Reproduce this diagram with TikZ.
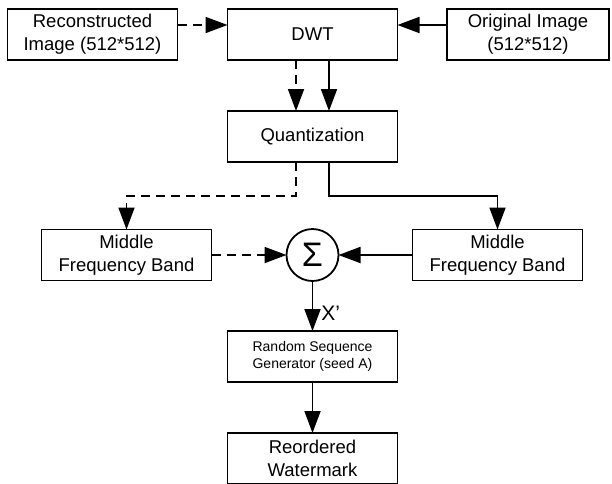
\documentclass[tikz,border=0pt]{standalone}
\usepackage{fontspec}
\setmainfont{Liberation Sans}
\usetikzlibrary{arrows.meta,positioning}

\begin{document}
\begin{tikzpicture}[
  x=1pt,y=1pt,
  node distance=50pt,
  box/.style={draw,line width=1.8pt,minimum width=170pt,minimum height=51pt,
              outer sep=0pt,inner sep=2pt,align=center,
              font=\fontsize{18.5}{23}\selectfont},
  smallbox/.style={box,font=\fontsize{14}{17}\selectfont},
  sumnode/.style={draw,circle,line width=1.8pt,minimum size=52pt,inner sep=0pt,
              outer sep=0pt,font=\fontsize{34}{34}\selectfont},
  arr/.style={-{Triangle[length=22pt,width=16pt]},line width=1.8pt},
  dasharr/.style={arr,dash pattern=on 9pt off 6pt},
  lbl/.style={font=\fontsize{21}{24}\selectfont,inner sep=0pt}
]
\useasboundingbox (0,0) rectangle (612,-483);

\node[box] (dwt) at (312.5,-34.5) {DWT};
\node[box,left=of dwt]  (recon) {Reconstructed\\Image (512*512)};
\node[box,minimum width=162pt,right=49.5pt of dwt] (orig) {Original Image\\(512*512)};
\node[box,below=51pt of dwt] (quant) {Quantization};

\node[sumnode,below=67pt of quant] (sum) {Σ};
\node[box,left=75pt of sum]  (midl) {Middle\\Frequency Band};
\node[box,right=74pt of sum] (midr) {Middle\\Frequency Band};

\node[smallbox,below=of sum] (rand) {Random Sequence\\Generator (seed A)};
\node[box,below=51pt of rand] (reord) {Reordered\\Watermark};

\draw[dasharr] ([yshift=9.5pt]recon.east) -- ([yshift=9.5pt]dwt.west);
\draw[arr] ([yshift=9.5pt]orig.west) -- ([yshift=9.5pt]dwt.east);

\draw[dasharr] ([xshift=-16.5pt]dwt.south) -- ([xshift=-16.5pt]quant.north);
\draw[arr] ([xshift=16.5pt]dwt.south) -- ([xshift=16.5pt]quant.north);

\draw[dasharr] ([xshift=-16.5pt]quant.south) -- ++(0,-34) -| (midl.north);
\draw[arr] ([xshift=16.5pt]quant.south) -- ++(0,-34) -| (midr.north);

\draw[dasharr] (midl.east) -- (sum.west);
\draw[arr] (midr.west) -- (sum.east);

\draw[arr] (sum) -- node[lbl,pos=0.64,right,xshift=8pt] (xprime) {X'} (rand);
\draw[arr] (rand) -- (reord);
\end{tikzpicture}
\end{document}
